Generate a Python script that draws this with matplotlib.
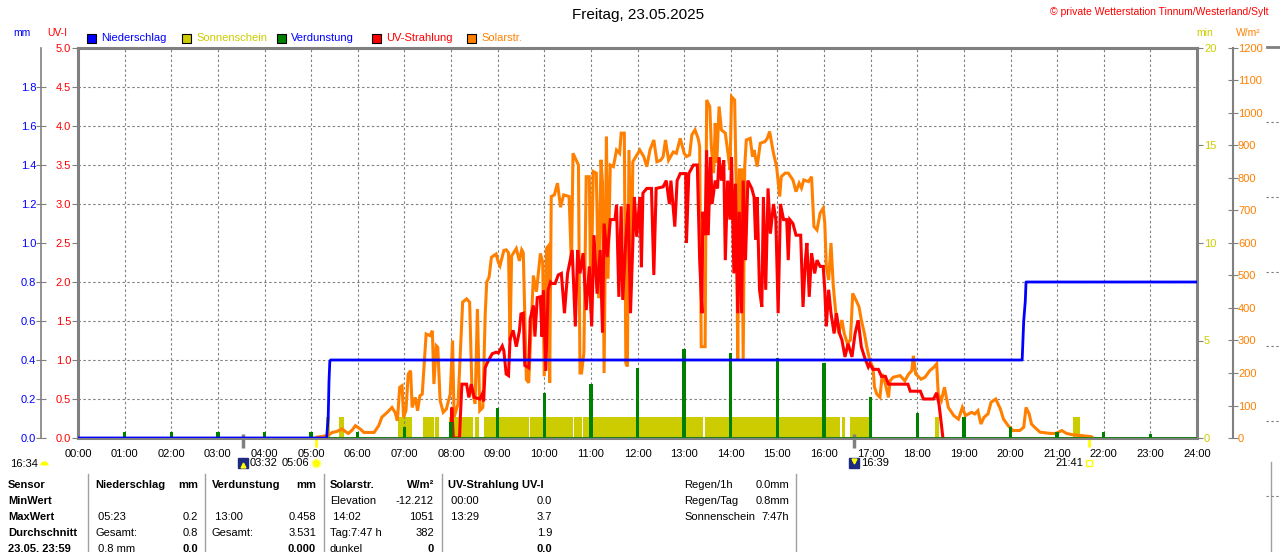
import numpy as np
import matplotlib.pyplot as plt
from matplotlib.patches import Rectangle
from matplotlib.lines import Line2D

plt.rcParams['font.family'] = ['Liberation Sans', 'DejaVu Sans']
plt.rcParams['font.size'] = 8

W, H, DPI = 1280, 552, 100

BLUE = '#0000ff'
YELLOW = '#cccc00'
GREEN = '#008000'
RED = '#ff0000'
ORANGE = '#ff8000'
GRAY = '#808080'

title = 'Freitag, 23.05.2025'
station = '\u00a9 private Wetterstation Tinnum/Westerland/Sylt'
legend_names = ['Niederschlag', 'Sonnenschein', 'Verdunstung', 'UV-Strahlung', 'Solarstr.']
legend_faces = [BLUE, YELLOW, GREEN, RED, ORANGE]
legend_texts = [BLUE, YELLOW, BLUE, RED, ORANGE]

hour_labels = ['%02d:00' % h for h in range(25)]
uv_ticks = [0.0, 0.5, 1.0, 1.5, 2.0, 2.5, 3.0, 3.5, 4.0, 4.5, 5.0]
mm_ticks = [0.0, 0.2, 0.4, 0.6, 0.8, 1.0, 1.2, 1.4, 1.6, 1.8]
min_ticks = [0, 5, 10, 15, 20]
sol_ticks = [0, 100, 200, 300, 400, 500, 600, 700, 800, 900, 1000, 1100, 1200]

# Solarstrahlung W/m2
solar_t = ['05:06', '05:08', '05:15', '05:23', '05:27', '05:33', '05:40', '05:44', '05:48', '05:53',
           '05:57', '06:03', '06:08', '06:15', '06:21', '06:27', '06:31', '06:38', '06:44', '06:48',
           '06:51', '06:54', '06:57', '06:59', '07:02', '07:05', '07:08', '07:10', '07:14', '07:17',
           '07:20', '07:23', '07:28', '07:33', '07:36', '07:38', '07:41', '07:43', '07:46', '07:50',
           '07:54', '07:59', '08:02', '08:04', '08:09', '08:15', '08:20', '08:24', '08:27', '08:31',
           '08:34', '08:37', '08:41', '08:44', '08:46', '08:49', '08:52', '08:58', '09:01', '09:03',
           '09:08', '09:11', '09:14', '09:16', '09:18', '09:24', '09:28', '09:31', '09:33', '09:37',
           '09:40', '09:46', '09:50', '09:55', '09:58', '10:00', '10:03', '10:05', '10:07', '10:09',
           '10:13', '10:17', '10:21', '10:25', '10:32', '10:35', '10:37', '10:44', '10:46', '10:48',
           '10:51', '10:54', '10:58', '11:00', '11:03', '11:07', '11:10', '11:13', '11:15', '11:17',
           '11:20', '11:22', '11:25', '11:29', '11:33', '11:37', '11:39', '11:43', '11:45', '11:47',
           '11:49', '11:52', '11:54', '12:03', '12:08', '12:12', '12:16', '12:21', '12:25', '12:30',
           '12:33', '12:36', '12:40', '12:46', '12:50', '12:55', '13:00', '13:03', '13:07', '13:10',
           '13:14', '13:18', '13:20', '13:22', '13:27', '13:29', '13:33', '13:35', '13:38', '13:40',
           '13:42', '13:45', '13:48', '13:53', '13:57', '13:59', '14:01', '14:05', '14:07', '14:09',
           '14:11', '14:14', '14:16', '14:18', '14:20', '14:25', '14:28', '14:30', '14:34', '14:38',
           '14:44', '14:47', '14:50', '14:55', '14:59', '15:03', '15:05', '15:10', '15:14', '15:20',
           '15:24', '15:28', '15:31', '15:34', '15:40', '15:44', '15:47', '15:51', '15:55', '15:59',
           '16:01', '16:03', '16:06', '16:09', '16:12', '16:16', '16:19', '16:23', '16:26', '16:30',
           '16:34', '16:37', '16:41', '16:45', '16:48', '16:52', '16:55', '16:59', '17:03', '17:05',
           '17:08', '17:12', '17:15', '17:19', '17:23', '17:25', '17:29', '17:38', '17:44', '17:49',
           '17:53', '17:55', '17:58', '18:05', '18:10', '18:16', '18:21', '18:25', '18:27', '18:31',
           '18:35', '18:40', '18:47', '18:53', '18:56', '18:58', '19:02', '19:10', '19:14', '19:18',
           '19:22', '19:26', '19:31', '19:35', '19:41', '19:47', '19:51', '19:57', '20:03', '20:12',
           '20:17', '20:20', '20:24', '20:27', '20:31', '20:38', '20:51', '20:58', '21:02', '21:06',
           '21:12', '21:20', '21:33', '21:44', '21:46']
solar_w = [0, 3, 5, 10, 17, 20, 28, 20, 14, 25,
           38, 28, 17, 17, 17, 38, 64, 79, 94, 79,
           53, 156, 161, 64, 84, 197, 207, 94, 125, 84,
           130, 135, 320, 315, 330, 166, 284, 279, 115, 79,
           89, 135, 300, 64, 105, 418, 428, 418, 146, 105,
           397, 84, 94, 380, 480, 495, 556, 566, 540, 530,
           577, 579, 570, 300, 560, 583, 545, 579, 570, 180,
           170, 500, 450, 568, 540, 190, 584, 590, 170, 743,
           748, 784, 710, 748, 743, 530, 876, 840, 200, 200,
           262, 804, 804, 385, 820, 815, 430, 856, 784, 200,
           927, 490, 840, 835, 886, 876, 938, 938, 230, 220,
           886, 490, 850, 886, 866, 835, 886, 917, 850, 855,
           866, 917, 855, 880, 876, 922, 876, 866, 871, 933,
           948, 922, 897, 281, 281, 1040, 1020, 897, 815, 969,
           846, 1020, 948, 938, 866, 825, 1050, 1040, 784, 240,
           825, 825, 240, 835, 917, 922, 866, 886, 835, 907,
           912, 922, 943, 876, 835, 743, 804, 815, 815, 794,
           758, 784, 769, 794, 789, 804, 651, 640, 692, 707,
           661, 527, 486, 600, 466, 363, 322, 363, 322, 291,
           302, 445, 425, 404, 363, 322, 281, 238, 217, 156,
           135, 125, 197, 166, 125, 176, 187, 192, 176, 197,
           207, 253, 197, 181, 187, 207, 217, 228, 135, 115,
           156, 94, 69, 58, 79, 94, 69, 79, 74, 84,
           43, 64, 74, 110, 120, 89, 58, 38, 23, 23,
           33, 94, 74, 43, 33, 18, 14, 14, 18, 23,
           14, 10, 7, 4, 0]

# UV-Strahlung UV-I
uv_t = ['08:00', '08:01', '08:03', '08:11', '08:12', '08:14', '08:20', '08:23', '08:26', '08:30',
        '08:37', '08:40', '08:42', '08:44', '08:47', '08:53', '08:58', '09:01', '09:06', '09:08',
        '09:11', '09:14', '09:16', '09:20', '09:24', '09:28', '09:30', '09:33', '09:35', '09:40',
        '09:42', '09:46', '09:48', '09:51', '09:55', '09:57', '09:59', '10:02', '10:05', '10:08',
        '10:10', '10:14', '10:18', '10:22', '10:26', '10:30', '10:36', '10:40', '10:43', '10:46',
        '10:50', '10:54', '10:58', '11:01', '11:04', '11:08', '11:12', '11:15', '11:17', '11:21',
        '11:25', '11:31', '11:33', '11:36', '11:39', '11:41', '11:45', '11:48', '11:51', '11:56',
        '11:59', '12:03', '12:05', '12:07', '12:12', '12:18', '12:21', '12:24', '12:33', '12:37',
        '12:41', '12:43', '12:48', '12:51', '12:55', '13:02', '13:03', '13:06', '13:12', '13:17',
        '13:20', '13:23', '13:24', '13:27', '13:29', '13:31', '13:34', '13:36', '13:40', '13:43',
        '13:45', '13:48', '13:51', '13:53', '13:56', '13:59', '14:01', '14:04', '14:06', '14:09',
        '14:11', '14:14', '14:16', '14:19', '14:22', '14:27', '14:30', '14:32', '14:34', '14:37',
        '14:40', '14:42', '14:45', '14:48', '14:51', '14:55', '14:58', '15:01', '15:04', '15:08',
        '15:12', '15:14', '15:16', '15:20', '15:24', '15:30', '15:33', '15:36', '15:38', '15:41',
        '15:44', '15:48', '15:51', '15:55', '15:59', '16:01', '16:03', '16:06', '16:09', '16:13',
        '16:16', '16:20', '16:23', '16:27', '16:31', '16:36', '16:40', '16:44', '16:48', '16:52',
        '16:57', '16:59', '17:03', '17:10', '17:14', '17:19', '17:23', '17:48', '17:51', '18:04',
        '18:08', '18:21', '18:25', '18:28', '18:31', '18:33']
uv_i = [0.0, 0.39, 0.0, 0.0, 0.26, 0.69, 0.69, 0.52, 0.69, 0.52,
        0.5, 0.56, 0.47, 0.9, 0.97, 1.08, 1.1, 1.09, 1.18, 1.12,
        0.82, 0.8, 1.27, 1.38, 1.17, 1.37, 1.59, 1.6, 0.93, 0.9,
        1.53, 1.7, 1.3, 1.8, 1.81, 1.3, 1.89, 0.86, 1.9, 2.0,
        1.98, 1.98, 2.09, 2.11, 1.6, 2.11, 2.41, 1.43, 2.41, 2.11,
        2.37, 1.64, 2.2, 1.43, 2.6, 1.85, 2.41, 1.35, 2.75, 2.32,
        2.8, 2.8, 2.99, 1.81, 2.97, 1.77, 2.54, 3.0, 1.6, 3.09,
        2.58, 3.09, 2.19, 3.14, 3.2, 3.2, 2.09, 3.2, 3.22, 3.3,
        3.0, 3.3, 2.71, 3.3, 3.39, 3.39, 2.5, 3.39, 3.5, 3.5,
        2.28, 1.6, 2.9, 2.6, 3.69, 2.6, 3.6, 3.0, 3.3, 3.2,
        3.6, 3.3, 3.56, 2.28, 3.3, 2.8, 3.6, 2.11, 3.26, 1.6,
        2.9, 1.6, 3.3, 2.28, 3.3, 3.2, 3.09, 2.54, 3.09, 1.9,
        1.68, 3.09, 1.9, 3.2, 2.62, 3.0, 2.8, 1.6, 3.0, 2.8,
        2.8, 2.28, 2.8, 2.75, 2.6, 2.6, 1.68, 2.28, 2.5, 1.81,
        2.37, 2.11, 2.28, 2.2, 2.2, 1.9, 1.43, 1.9, 1.6, 1.34,
        1.6, 1.34, 1.26, 1.04, 1.21, 1.04, 1.34, 1.51, 1.17, 1.04,
        0.91, 0.95, 0.88, 0.88, 0.79, 0.79, 0.69, 0.69, 0.6, 0.6,
        0.5, 0.5, 0.58, 0.43, 0.18, 0.0]

# Niederschlag (Summe) mm
rain_t = ['00:00', '05:20', '05:22', '05:23', '05:24', '05:25', '20:15', '20:17', '20:19', '20:20', '24:00']
rain_mm = [0.0, 0.0, 0.11, 0.29, 0.39, 0.4, 0.4, 0.6, 0.7, 0.8, 0.8]

# Verdunstung mm je Stunde
evap_t = ['01:00', '02:00', '03:00', '04:00', '05:00', '06:00', '07:00', '08:00', '09:00', '10:00', '11:00',
          '12:00', '13:00', '14:00', '15:00', '16:00', '17:00', '18:00', '19:00', '20:00', '21:00',
          '22:00', '23:00']
evap_mm = [0.03, 0.03, 0.03, 0.03, 0.03, 0.029, 0.058, 0.084, 0.155, 0.229, 0.277,
           0.357, 0.458, 0.434, 0.409, 0.383, 0.209, 0.13, 0.106, 0.058, 0.029,
           0.029, 0.02]

# Sonnenschein (Minuten je Minute)
sun_start = ['05:19', '05:36', '06:52', '07:24', '07:39', '07:58', '08:04', '08:31', '08:42', '09:42',
             '10:38', '10:50', '13:27', '16:23', '16:33', '18:23', '21:20']
sun_end = ['05:24', '05:42', '07:10', '07:38', '07:45', '08:02', '08:28', '08:36', '09:40', '10:37',
           '10:48', '13:24', '16:20', '16:27', '16:59', '18:28', '21:29']
sun_value = 1.08

moon_rise, moon_set = '03:32', '16:39'
sun_rise, sun_set = '05:06', '21:41'
moon_set_prev = '16:34'

table_rows = [
    ['Sensor', 'Niederschlag', 'mm', 'Verdunstung', 'mm', 'Solarstr.', 'W/m\u00b2', 'UV-Strahlung UV-I', ''],
    ['MinWert', '', '', '', '', 'Elevation', '-12.212', ' 00:00', '0.0'],
    ['MaxWert', ' 05:23', '0.2', ' 13:00', '0.458', ' 14:02', '1051', ' 13:29', '3.7'],
    ['Durchschnitt', 'Gesamt:', '0.8', 'Gesamt:', '3.531', 'Tag:7:47 h', '382', '', '1.9'],
    ['23.05. 23:59', ' 0.8 mm', '0.0', '', '0.000', 'dunkel', '0', '', '0.0'],
]
summary_names = ['Regen/1h', 'Regen/Tag', 'Sonnenschein']
summary_values = ['0.0mm', '0.8mm', '7:47h']


def hours(times):
    return np.array([int(s[:2]) + int(s[3:]) / 60 for s in times])


def px(x, y):
    return x / W, 1 - y / H


fig = plt.figure(figsize=(W / DPI, H / DPI), dpi=DPI)

ax_sun = fig.add_axes([78 / W, 1 - 438 / H, 1119 / W, 390 / H])
ax_sol = ax_sun.twinx()
ax_uv = ax_sun.twinx()
ax_mm = ax_sun.twinx()

ax_sun.set_xlim(0, 24)
ax_sun.set_ylim(0, 20)
ax_sol.set_ylim(0, 1200)
ax_uv.set_ylim(0, 5)
ax_mm.set_ylim(0, 2.0)

# grid (dashed gray, every hour and every 0.5 UV-I)
ax_sun.set_xticks(np.arange(25))
ax_sun.set_xticklabels(hour_labels)
ax_sun.set_yticks(min_ticks)
ax_sun.set_yticks(np.arange(0, 21, 2), minor=True)
ax_sun.grid(True, which='major', axis='x', color=GRAY, linestyle=(0, (2.2, 2.2)), linewidth=0.8)
ax_sun.grid(True, which='minor', axis='y', color=GRAY, linestyle=(0, (2.2, 2.2)), linewidth=0.8)
ax_sun.tick_params(axis='x', length=0, pad=8, labelsize=8)
ax_sun.tick_params(axis='y', which='minor', length=0)
ax_sun.yaxis.tick_right()
ax_sun.tick_params(axis='y', which='major', direction='out', length=4, color=GRAY,
                   labelcolor=YELLOW, labelsize=8, pad=1)
for sp in ax_sun.spines.values():
    sp.set_color(GRAY)
    sp.set_linewidth(2.2)

# sunshine
s0 = hours(sun_start)
s1 = hours(sun_end)
ax_sun.bar(s0, np.full(len(s0), sun_value), width=s1 - s0, align='edge', color=YELLOW, linewidth=0)

# solar radiation
ax_sol.plot(hours(solar_t), solar_w, color=ORANGE, linewidth=2.2, solid_joinstyle='miter')
ax_sol.set_yticks(sol_ticks)
for name, sp in ax_sol.spines.items():
    sp.set_visible(name == 'right')
ax_sol.spines['right'].set_position(('outward', 26))
ax_sol.spines['right'].set_color(GRAY)
ax_sol.spines['right'].set_linewidth(1.5)
ax_sol.tick_params(axis='y', direction='inout', length=7, color=GRAY, labelcolor=ORANGE,
                   labelsize=8, pad=0)

# UV
ax_uv.plot(hours(uv_t), uv_i, color=RED, linewidth=2.2, solid_joinstyle='miter')
ax_uv.yaxis.tick_left()
ax_uv.set_yticks(uv_ticks)
ax_uv.set_yticklabels(['%.1f' % v for v in uv_ticks])
for sp in ax_uv.spines.values():
    sp.set_visible(False)
ax_uv.tick_params(axis='y', direction='out', length=4, color=GRAY, labelcolor=RED,
                  labelsize=8, pad=1)

# evaporation + rain
ax_mm.axhline(0, color=GREEN, linewidth=1.8, zorder=1)
ax_mm.bar(hours(evap_t), evap_mm, width=0.07, color=GREEN, linewidth=0, zorder=2)
ax_mm.plot(hours(rain_t), rain_mm, color=BLUE, linewidth=2.0, zorder=3)
ax_mm.yaxis.tick_left()
ax_mm.set_yticks(mm_ticks)
ax_mm.set_yticklabels(['%.1f' % v for v in mm_ticks])
for name, sp in ax_mm.spines.items():
    sp.set_visible(name == 'left')
ax_mm.spines['left'].set_position(('outward', 26.5))
ax_mm.spines['left'].set_color(GRAY)
ax_mm.spines['left'].set_linewidth(1.2)
ax_mm.tick_params(axis='y', direction='inout', length=7, color=GRAY, labelcolor=BLUE,
                  labelsize=8, pad=0)

# moon / sun event ticks under the x axis
xtr = ax_sun.get_xaxis_transform()
ax_sun.vlines(hours([moon_rise, moon_set]), 0.01, -0.025, transform=xtr, colors=GRAY,
              linewidth=2.5, clip_on=False)
ax_sun.vlines(hours([sun_rise, sun_set]), 0.0, -0.022, transform=xtr, colors='#ffff00',
              linewidth=2, clip_on=False)
ev_y = -0.065
ax_sun.plot(hours([moon_rise, moon_set]), [ev_y, ev_y], 's', color='#1c2a80', markersize=7,
            transform=xtr, clip_on=False)
ax_sun.plot(hours([moon_rise]), [ev_y - 0.005], '^', color='#ffff00', markersize=3.5,
            transform=xtr, clip_on=False)
ax_sun.plot(hours([moon_set]), [ev_y + 0.005], 'v', color='#ffff00', markersize=3.5,
            transform=xtr, clip_on=False)
ax_sun.plot(hours([sun_rise]), [ev_y], 'o', color='#ffff00', markersize=6,
            markeredgecolor='#ffff80', transform=xtr, clip_on=False)
ax_sun.plot(hours([sun_set]), [ev_y], 's', markerfacecolor='none', markeredgecolor='#ffff00',
            markersize=4, transform=xtr, clip_on=False)
ax_sun.annotate(moon_rise, (hours([moon_rise])[0], ev_y), xycoords=xtr, xytext=(5, 0),
                textcoords='offset points', ha='left', va='center', fontsize=8)
ax_sun.annotate(sun_rise, (hours([sun_rise])[0], ev_y), xycoords=xtr, xytext=(-5, 0),
                textcoords='offset points', ha='right', va='center', fontsize=8)
ax_sun.annotate(moon_set, (hours([moon_set])[0], ev_y), xycoords=xtr, xytext=(5, 0),
                textcoords='offset points', ha='left', va='center', fontsize=8)
ax_sun.annotate(sun_set, (hours([sun_set])[0], ev_y), xycoords=xtr, xytext=(-4, 0),
                textcoords='offset points', ha='right', va='center', fontsize=8)
fig.text(*px(10, 464), moon_set_prev, ha='left', va='center', fontsize=8)
fig.add_artist(Line2D([44 / W], [1 - 465 / H], marker='o', color='#ffff00', markersize=6,
                      fillstyle='top', markerfacecoloralt='none', markeredgewidth=0))

# titles and unit labels
fig.text(*px(638, 15), title, ha='center', va='center', fontsize=11)
fig.text(*px(1268, 12), station, ha='right', va='center', fontsize=7.5, color=RED)
fig.text(*px(22, 33), 'mm', ha='center', va='center', fontsize=7.5, color=BLUE)
fig.text(*px(57, 33), 'UV-I', ha='center', va='center', fontsize=7.5, color=RED)
fig.text(*px(1205, 33), 'min', ha='center', va='center', fontsize=7.5, color=YELLOW)
fig.text(*px(1248, 33), 'W/m\u00b2', ha='center', va='center', fontsize=7.5, color=ORANGE)

# legend
for i, (name, fc, tc) in enumerate(zip(legend_names, legend_faces, legend_texts)):
    x0 = 87 + i * 95
    fig.add_artist(Rectangle(px(x0, 43), 9 / W, 9 / H, facecolor=fc, edgecolor='black',
                             linewidth=0.8, transform=fig.transFigure))
    fig.text(*px(x0 + 14, 38), name, ha='left', va='center', fontsize=8, color=tc)

# table
label_x = [8, 95, 198, 212, 316, 330, 434, 448, 552]
align = ['left', 'left', 'right', 'left', 'right', 'left', 'right', 'left', 'right']
for r, row in enumerate(table_rows):
    y = 485 + r * 16
    for c, txt in enumerate(row):
        bold = r == 0 or c == 0 or (r == 4 and align[c] == 'right')
        fig.text(*px(label_x[c], y), txt, ha=align[c], va='center', fontsize=8,
                 fontweight='bold' if bold else 'normal')
for r, (name, val) in enumerate(zip(summary_names, summary_values)):
    y = 485 + r * 16
    fig.text(*px(684, y), name, ha='left', va='center', fontsize=8)
    fig.text(*px(789, y), val, ha='right', va='center', fontsize=8)

for xs, y0 in [(88, 474), (205, 474), (324, 474), (442, 474), (796, 474), (1271, 462)]:
    fig.add_artist(Line2D([xs / W, xs / W], [1 - y0 / H, 0], color='#a0a0a0', linewidth=1))

# neighbouring chart fragment at the right edge
fig.add_artist(Line2D([1267 / W, 1.0], [1 - 47 / H, 1 - 47 / H], color=GRAY, linewidth=2))
for yy in [122, 197, 272, 346, 421, 496]:
    fig.add_artist(Line2D([1266 / W, 1.0], [1 - yy / H, 1 - yy / H], color=GRAY,
                          linewidth=0.8, linestyle=(0, (2.2, 2.2))))

fig.savefig('out.png', dpi=DPI)
